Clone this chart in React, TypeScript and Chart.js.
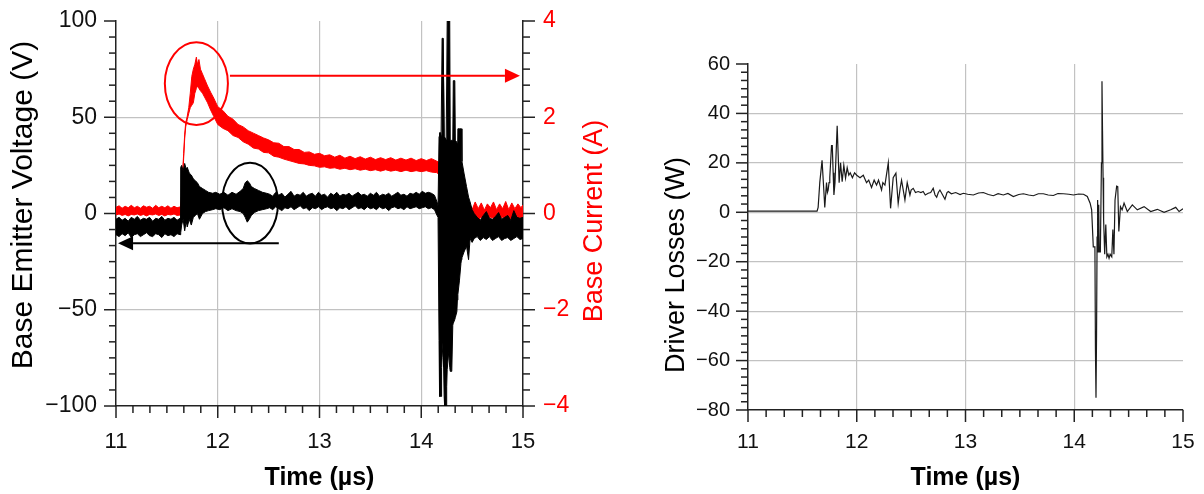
import React, { useEffect, useRef } from 'react';
import { Chart, registerables } from 'chart.js';

Chart.register(...registerables);

const FONT = '"Liberation Sans", Arial, Helvetica, sans-serif';

// ---------- Left chart: base-emitter voltage band (V) ----------
const vTime = [
  11.00, 11.03, 11.06, 11.09, 11.12, 11.15, 11.18, 11.21, 11.24, 11.27, 11.30, 11.33, 11.36, 11.39, 11.42, 11.45, 11.48, 11.51, 11.54, 11.57, 11.60, 11.63,
  11.636, 11.645, 11.66, 11.675, 11.69, 11.70, 11.72, 11.74, 11.76, 11.78, 11.80, 11.82, 11.85, 11.88, 11.91, 11.95, 11.98,
  12.02, 12.06, 12.10, 12.14, 12.18, 12.22, 12.25, 12.27, 12.29, 12.31, 12.33, 12.36, 12.40, 12.44, 12.48,
  12.51, 12.54, 12.57, 12.60, 12.63, 12.66, 12.69, 12.72, 12.75, 12.78,
  12.81, 12.84, 12.87, 12.90, 12.93, 12.96, 12.99, 13.02, 13.05, 13.08,
  13.11, 13.14, 13.17, 13.20, 13.23, 13.26, 13.29, 13.32, 13.35, 13.38,
  13.41, 13.44, 13.47, 13.50, 13.53, 13.56, 13.59, 13.62, 13.65, 13.68,
  13.71, 13.74, 13.77, 13.80, 13.83, 13.86, 13.89, 13.92, 13.95, 13.98,
  14.01, 14.04, 14.07, 14.10, 14.13,
  14.155, 14.165, 14.175, 14.18, 14.19, 14.195, 14.20, 14.205, 14.215, 14.22, 14.225, 14.23, 14.245, 14.25, 14.255, 14.27, 14.28, 14.285,
  14.30, 14.31, 14.315, 14.33, 14.335, 14.35, 14.355, 14.36, 14.375, 14.39, 14.395, 14.40, 14.42, 14.445, 14.465, 14.48, 14.50,
  14.52, 14.55, 14.58, 14.61, 14.64, 14.67, 14.70, 14.73, 14.76, 14.79, 14.82, 14.85, 14.88, 14.91, 14.94, 14.97, 15.00,
];
const vHigh = [
  -3, -2, -3.5, -2.5, -4, -2, -3, -1.5, -3.5, -2.5, -3, -2, -4, -2.5, -3, -1.5, -3.5, -2.5, -3, -2, -3.5, -2.5,
  24, 25, 22, 26, 23, 24, 21, 20, 18, 17, 16, 14, 13, 12, 11, 10.5, 11,
  10, 11, 9.5, 11, 10, 11.5, 13, 16, 17, 16, 14, 13, 12, 11, 10.5,
  10, 9, 11, 9.5, 10.5, 8.5, 10, 11.5, 9, 10,
  9.5, 11, 9, 10, 10.5, 9, 11, 9.5, 10, 8.5,
  10.5, 9.5, 11, 9, 10, 9.5, 10.5, 9, 10, 11,
  9.5, 10, 9, 10.5, 9.5, 11, 9, 10, 9.5, 10.5,
  9, 10, 11, 9.5, 10, 9, 10.5, 10, 11, 10,
  11.5, 10.5, 11, 10.5, 9.5,
  6, 4, 40, 42, 42, 40, 40, 91, 91, 91, 40, 40, 38, 38, 100, 100, 100, 38,
  38, 38, 69, 69, 38, 37, 36, 44, 44, 44, 44, 27, 21, 14, 8.5, 6, 2,
  0, -2, -3.5, -1, 1, -2.5, -3, -1.5, 0.5, -3, -2, -1, -3.5, 1.5, -2, -2.5, -2,
];
const vLow = [
  -11, -12, -10.5, -11.5, -10, -12.5, -11, -10.5, -12, -11, -10, -11.5, -12, -10.5, -11, -12.5, -10.5, -11.5, -11, -12, -10.5, -11,
  -10, -6, -3, -9, -4, -7, -3, -6, -2, -1, 0, -3, 0, 1, 1.5, 2, 2.5,
  2, 3, 1.5, 2.5, 1.5, 1, 0, -2, -4.5, -3, -1, 0.5, 1.5, 2, 2.5,
  3, 2, 3.5, 2.5, 1.5, 3, 2.5, 3.5, 2, 3,
  4, 2.5, 3, 1.5, 3, 2.5, 3.5, 2, 3, 3.5,
  2.5, 3, 1.5, 3, 2.5, 3.5, 2, 3, 4, 2.5,
  3, 2, 3.5, 2.5, 3, 2, 3.5, 2.5, 3, 1.5,
  3, 3.5, 2.5, 3, 2, 3.5, 2.5, 3, 3.5, 2.5,
  3, 3.5, 2.5, 3, 2,
  -1, -2, -66, -95, -95, -95, -80, -75, -66, -80, -95, -100, -100, -90, -81, -72, -80, -82,
  -82, -58, -57, -55, -54, -51, -45, -42, -35, -26, -24, -23, -20, -17, -24, -13, -15,
  -13, -12, -14, -12.5, -13.5, -12, -14, -13, -12, -14, -13, -12.5, -14, -13, -12, -13.5, -13,
];

// ---------- Left chart: base current band (A) ----------
const iTime = [
  11.00, 11.03, 11.06, 11.09, 11.12, 11.15, 11.18, 11.21, 11.24, 11.27, 11.30, 11.33, 11.36, 11.39, 11.42, 11.45, 11.48, 11.51, 11.54, 11.57, 11.60, 11.636,
  11.645, 11.655, 11.665, 11.675, 11.685, 11.70, 11.715, 11.73, 11.745, 11.76, 11.775, 11.79, 11.80, 11.815, 11.83, 11.85, 11.87, 11.90, 11.93, 11.96,
  12.00, 12.05, 12.10, 12.15, 12.20, 12.25, 12.30, 12.35, 12.40, 12.45, 12.50, 12.55, 12.60, 12.65, 12.70, 12.75, 12.80, 12.85, 12.90, 12.95, 13.00, 13.05,
  13.10, 13.15, 13.20, 13.25, 13.30, 13.35, 13.40, 13.45, 13.50, 13.55, 13.60, 13.65, 13.70, 13.75, 13.80, 13.85, 13.90, 13.95, 14.00, 14.05, 14.10, 14.15,
  14.185, 14.195, 14.21, 14.25, 14.30, 14.35, 14.40, 14.44,
  14.47, 14.50, 14.53, 14.56, 14.59, 14.62, 14.65, 14.68, 14.71, 14.74, 14.77, 14.80, 14.83, 14.86, 14.89, 14.92, 14.95, 14.98, 15.00,
];
const iHigh = [
  0.13, 0.16, 0.11, 0.15, 0.12, 0.17, 0.12, 0.15, 0.11, 0.16, 0.13, 0.15, 0.11, 0.17, 0.12, 0.15, 0.12, 0.16, 0.11, 0.15, 0.12, 0.14,
  0.4, 0.85, 1.25, 1.65, 1.88, 2.02, 2.2, 2.5, 2.85, 3.0, 3.1, 3.25, 3.1, 3.2, 3.0, 2.9, 2.8, 2.65, 2.52, 2.4,
  2.22, 2.14, 2.02, 1.96, 1.85, 1.8, 1.72, 1.67, 1.62, 1.57, 1.53, 1.47, 1.46, 1.39, 1.39, 1.33, 1.33, 1.27, 1.28, 1.23, 1.25, 1.2,
  1.22, 1.17, 1.21, 1.15, 1.19, 1.14, 1.18, 1.13, 1.17, 1.12, 1.16, 1.12, 1.16, 1.11, 1.15, 1.11, 1.15, 1.1, 1.14, 1.1, 1.14, 1.09,
  1.05, 0.85, 0.6, 0.45, 0.4, 0.35, 0.3, 0.28,
  0.22, 0.08, 0.24, 0.1, 0.22, 0.07, 0.2, 0.12, 0.24, 0.08, 0.2, 0.1, 0.25, 0.08, 0.22, 0.1, 0.2, 0.12, 0.18,
];
const iLow = [
  -0.03, -0.01, -0.04, -0.02, -0.05, -0.02, -0.03, -0.01, -0.04, -0.02, -0.05, -0.02, -0.03, -0.01, -0.04, -0.02, -0.05, -0.02, -0.03, -0.01, -0.04, -0.03,
  0.3, 0.75, 1.15, 1.55, 1.8, 1.95, 2.08, 2.2, 2.25, 2.3, 2.5, 2.6, 2.65, 2.6, 2.55, 2.5, 2.42, 2.3, 2.15, 2.02,
  1.85, 1.77, 1.72, 1.62, 1.58, 1.49, 1.44, 1.36, 1.34, 1.27, 1.26, 1.19, 1.17, 1.13, 1.1, 1.07, 1.04, 1.03, 1.0, 0.99, 0.96, 0.97,
  0.94, 0.95, 0.92, 0.94, 0.91, 0.93, 0.9, 0.92, 0.89, 0.91, 0.88, 0.91, 0.88, 0.9, 0.87, 0.9, 0.87, 0.89, 0.87, 0.89, 0.86, 0.85,
  0.8, 0.5, 0.25, 0.1, 0.0, -0.05, -0.08, -0.1,
  -0.1, -0.08, -0.1, -0.12, -0.08, -0.1, -0.12, -0.08, -0.1, -0.12, -0.1, -0.08, -0.11, -0.1, -0.12, -0.08, -0.1, -0.12, -0.1,
];

// ---------- Right chart: driver losses (W) ----------
const lossTime = [
  11.00, 11.30, 11.60, 11.635, 11.645, 11.66, 11.681, 11.697, 11.706, 11.722, 11.73, 11.737, 11.745, 11.752, 11.768, 11.775,
  11.783, 11.79, 11.80, 11.82, 11.838, 11.851, 11.866, 11.881, 11.897, 11.912, 11.927, 11.94, 11.96, 11.98, 12.00, 12.03,
  12.06, 12.09, 12.11, 12.136, 12.16, 12.182, 12.20, 12.228, 12.24, 12.259, 12.29, 12.311, 12.335, 12.36, 12.381, 12.40,
  12.412, 12.443, 12.464, 12.489, 12.50, 12.519, 12.54, 12.565, 12.59, 12.611, 12.63, 12.657, 12.68, 12.703, 12.72, 12.735,
  12.75, 12.765, 12.79, 12.811, 12.83, 12.842, 12.87, 12.91, 12.95, 12.98, 13.02, 13.072, 13.12, 13.164, 13.21, 13.256,
  13.30, 13.348, 13.39, 13.44, 13.49, 13.532, 13.58, 13.624, 13.67, 13.716, 13.76, 13.808, 13.85, 13.90, 13.95, 13.993,
  14.04, 14.085, 14.12, 14.146, 14.16, 14.175, 14.19, 14.195, 14.20, 14.205, 14.21, 14.215, 14.22, 14.225, 14.23, 14.24,
  14.25, 14.255, 14.26, 14.265, 14.27, 14.28, 14.29, 14.30, 14.31, 14.32, 14.33, 14.345, 14.355, 14.365, 14.375, 14.39,
  14.40, 14.41, 14.425, 14.44, 14.458, 14.488, 14.534, 14.58, 14.642, 14.703, 14.764, 14.826, 14.887, 14.933, 14.964, 15.00,
];
const lossW = [
  0.5, 0.5, 0.5, 0.5, 2, 12, 21, 9, 2, 12, 8, 9, 12, 14, 27, 27,
  16, 7, 12, 35, 12, 20, 12.4, 19, 13.8, 18, 15, 16, 14, 16, 15, 14,
  15, 12, 13, 10, 13, 11, 13, 9, 12, 11, 20, 1.6, 14, 15.8, 3.6, 10,
  13, 5, 12, 7, 9, 9.7, 8, 8.4, 8, 8.4, 7, 7.7, 8, 9.7, 7, 6.1,
  8, 9, 7, 5.3, 8, 8.4, 7.5, 8, 7.2, 7.7, 7.3, 7, 7.8, 8, 7.2, 6.7,
  7.5, 7, 7.6, 6.4, 7.2, 7.5, 7, 6.7, 7.5, 7.5, 7, 6.8, 7.6, 7.5, 7.3, 7,
  7.4, 7.3, 6.4, 3.7, 1, -14, -14, -56, -75, -50, -10, 5, -16, 3, -16, -16,
  20, 53, 33, 14, -3, -17, -5, -18, -17, -18.6, -17, -18, -7, -17, 5, 10.6,
  10.4, -7.8, 2.3, 1, 3.7, 0.3, 3, 1, 2.3, 0.3, 1.2, 0, 1, 2, 0.3, 1.4,
];

// ---------- Axis tick values ----------
const timeTicks = [11, 12, 13, 14, 15];
const voltTicks = [-100, -50, 0, 50, 100];
const currentTicks = [-4, -2, 0, 2, 4];
const lossTicks = [-80, -60, -40, -20, 0, 20, 40, 60];
const MINOR_DIVISIONS = 6;

// ---------- Annotations (axis units) ----------
const redCircle = { x: 11.79, y: 2.7, rx: 0.31, ry: 0.86 };
const redArrow = { from: 12.12, to: 14.97, y: 2.86 };
const blackCircle = { x: 12.317, y: 5.4, rx: 0.275, ry: 21 };
const blackArrow = { from: 12.6, to: 11.02, y: -15.4 };

const fmt = (v: number) => (v < 0 ? '\u2212' + Math.abs(v) : String(v));
const pts = (t: number[], v: number[]) => t.map((x, i) => ({ x, y: v[i] }));

type AxisSpec = { id: string; side: 'bottom' | 'left' | 'right'; values: number[] };

const makeTicksPlugin = (axes: AxisSpec[]) => ({
  id: 'axisTicks',
  afterDraw(chart: any) {
    const { ctx, chartArea } = chart;
    ctx.save();
    ctx.strokeStyle = '#222';
    ctx.lineWidth = 1.5;
    for (const spec of axes) {
      const scale = chart.scales[spec.id];
      const draw = (v: number, len: number) => {
        const p = scale.getPixelForValue(v);
        ctx.beginPath();
        if (spec.side === 'bottom') {
          ctx.moveTo(p, chartArea.bottom);
          ctx.lineTo(p, chartArea.bottom + len);
        } else if (spec.side === 'left') {
          ctx.moveTo(chartArea.left, p);
          ctx.lineTo(chartArea.left - len, p);
        } else {
          ctx.moveTo(chartArea.right, p);
          ctx.lineTo(chartArea.right + len, p);
        }
        ctx.stroke();
      };
      spec.values.forEach((v, i) => {
        draw(v, 12);
        if (i < spec.values.length - 1) {
          const step = (spec.values[i + 1] - v) / MINOR_DIVISIONS;
          for (let k = 1; k < MINOR_DIVISIONS; k++) draw(v + k * step, 7);
        }
      });
    }
    ctx.restore();
  },
});

type TitleSpec = { text: string; x: number; y: number; size: number; color: string };
const makeTitlesPlugin = (titles: TitleSpec[]) => ({
  id: 'yTitles',
  afterDraw(chart: any) {
    const { ctx } = chart;
    for (const t of titles) {
      ctx.save();
      ctx.translate(t.x, t.y);
      ctx.rotate(-Math.PI / 2);
      ctx.font = `${t.size}px ${FONT}`;
      ctx.fillStyle = t.color;
      ctx.textAlign = 'center';
      ctx.textBaseline = 'middle';
      ctx.fillText(t.text, 0, 0);
      ctx.restore();
    }
  },
});

const annotationPlugin = {
  id: 'marks',
  afterDatasetsDraw(chart: any) {
    const { ctx } = chart;
    const x = chart.scales.x;
    const y = chart.scales.y;
    const y1 = chart.scales.y1;
    const ellipse = (e: any, ys: any, color: string) => {
      const cx = x.getPixelForValue(e.x);
      const cy = ys.getPixelForValue(e.y);
      const rx = Math.abs(x.getPixelForValue(e.x + e.rx) - cx);
      const ry = Math.abs(ys.getPixelForValue(e.y + e.ry) - cy);
      ctx.save();
      ctx.strokeStyle = color;
      ctx.lineWidth = 2;
      ctx.beginPath();
      ctx.ellipse(cx, cy, rx, ry, 0, 0, Math.PI * 2);
      ctx.stroke();
      ctx.restore();
    };
    const arrow = (a: any, ys: any, color: string) => {
      const x0 = x.getPixelForValue(a.from);
      const x1 = x.getPixelForValue(a.to);
      const py = ys.getPixelForValue(a.y);
      const dir = Math.sign(x1 - x0);
      const head = 15;
      ctx.save();
      ctx.strokeStyle = color;
      ctx.fillStyle = color;
      ctx.lineWidth = 2;
      ctx.beginPath();
      ctx.moveTo(x0, py);
      ctx.lineTo(x1 - dir * head, py);
      ctx.stroke();
      ctx.beginPath();
      ctx.moveTo(x1, py);
      ctx.lineTo(x1 - dir * head, py - 7);
      ctx.lineTo(x1 - dir * head, py + 7);
      ctx.closePath();
      ctx.fill();
      ctx.restore();
    };
    ellipse(redCircle, y1, '#ff0000');
    arrow(redArrow, y1, '#ff0000');
    ellipse(blackCircle, y, '#000000');
    arrow(blackArrow, y, '#000000');
  },
};

const gridColor = (lo: number, hi: number) => (c: any) =>
  c.tick && (c.tick.value === lo || c.tick.value === hi) ? 'rgba(0,0,0,0)' : '#c2c2c2';

const setTicks = (vals: number[]) => (s: any) => {
  s.ticks = vals.map((value) => ({ value }));
};

export default function App() {
  const leftRef = useRef<HTMLCanvasElement | null>(null);
  const rightRef = useRef<HTMLCanvasElement | null>(null);

  useEffect(() => {
    Chart.defaults.font.family = FONT;
    const line = { pointRadius: 0, borderWidth: 1, tension: 0 };

    const left = new Chart(leftRef.current as HTMLCanvasElement, {
      type: 'line',
      data: {
        datasets: [
          { ...line, data: pts(vTime, vHigh), yAxisID: 'y', borderColor: '#000', fill: false },
          { ...line, data: pts(vTime, vLow), yAxisID: 'y', borderColor: '#000', backgroundColor: '#000', fill: '-1' },
          { ...line, data: pts(iTime, iHigh), yAxisID: 'y1', borderColor: '#ff0000', fill: false },
          { ...line, data: pts(iTime, iLow), yAxisID: 'y1', borderColor: '#ff0000', backgroundColor: '#ff0000', fill: '-1' },
        ],
      },
      options: {
        responsive: false,
        animation: false,
        events: [],
        layout: { padding: { top: 21, left: 0, right: 0, bottom: 0 } },
        plugins: { legend: { display: false }, tooltip: { enabled: false } },
        scales: {
          x: {
            type: 'linear', min: 11, max: 15,
            afterBuildTicks: setTicks(timeTicks),
            afterFit: (s: any) => { s.height = 88; s.paddingLeft = 0; s.paddingRight = 0; },
            ticks: { font: { size: 22 }, color: '#111', padding: 23, maxRotation: 0, autoSkip: false },
            grid: { drawTicks: false, color: gridColor(11, 15), lineWidth: 1.2 },
            border: { color: '#222', width: 1.5 },
            title: { display: true, text: 'Time (\u00b5s)', color: '#000', font: { size: 25, weight: 'bold' }, padding: { top: 0, bottom: 1 } },
          },
          y: {
            type: 'linear', position: 'left', min: -100, max: 100,
            afterBuildTicks: setTicks(voltTicks),
            afterFit: (s: any) => { s.width = 116; s.paddingTop = 0; s.paddingBottom = 0; },
            ticks: { font: { size: 23 }, color: '#111', padding: 19, callback: (v: any) => fmt(Number(v)) },
            grid: { drawTicks: false, color: gridColor(-100, 100), lineWidth: 1.2 },
            border: { color: '#222', width: 1.5 },
          },
          y1: {
            type: 'linear', position: 'right', min: -4, max: 4,
            afterBuildTicks: setTicks(currentTicks),
            afterFit: (s: any) => { s.width = 117; s.paddingTop = 0; s.paddingBottom = 0; },
            ticks: { font: { size: 23 }, color: '#ff0000', padding: 20, callback: (v: any) => fmt(Number(v)) },
            grid: { drawTicks: false, drawOnChartArea: false },
            border: { color: '#222', width: 1.5 },
          },
        },
      } as any,
      plugins: [
        makeTicksPlugin([
          { id: 'x', side: 'bottom', values: timeTicks },
          { id: 'y', side: 'left', values: voltTicks },
          { id: 'y1', side: 'right', values: currentTicks },
        ]),
        annotationPlugin,
        makeTitlesPlugin([
          { text: 'Base Emitter Voltage (V)', x: 24, y: 205, size: 30, color: '#000' },
          { text: 'Base Current (A)', x: 595, y: 221, size: 27, color: '#ff0000' },
        ]),
      ],
    });

    const right = new Chart(rightRef.current as HTMLCanvasElement, {
      type: 'line',
      data: {
        datasets: [
          { ...line, data: pts(lossTime, lossW), borderColor: '#1a1a1a', borderWidth: 1.2, fill: false },
        ],
      },
      options: {
        responsive: false,
        animation: false,
        events: [],
        layout: { padding: { top: 64, left: 0, right: 21, bottom: 0 } },
        plugins: { legend: { display: false }, tooltip: { enabled: false } },
        scales: {
          x: {
            type: 'linear', min: 11, max: 15,
            afterBuildTicks: setTicks(timeTicks),
            afterFit: (s: any) => { s.height = 84; s.paddingLeft = 0; s.paddingRight = 0; },
            ticks: { font: { size: 21 }, color: '#111', padding: 20, maxRotation: 0, autoSkip: false },
            grid: { drawTicks: false, color: gridColor(11, 15), lineWidth: 1.2 },
            border: { color: '#222', width: 1.5 },
            title: { display: true, text: 'Time (\u00b5s)', color: '#000', font: { size: 25, weight: 'bold' }, padding: { top: 0, bottom: 1 } },
          },
          y: {
            type: 'linear', position: 'left', min: -80, max: 60,
            afterBuildTicks: setTicks(lossTicks),
            afterFit: (s: any) => { s.width = 108; s.paddingTop = 0; s.paddingBottom = 0; },
            ticks: { font: { size: 20 }, color: '#111', padding: 18, callback: (v: any) => fmt(Number(v)) },
            grid: { drawTicks: false, color: gridColor(-80, 60), lineWidth: 1.2 },
            border: { color: '#222', width: 1.5 },
          },
        },
      } as any,
      plugins: [
        makeTicksPlugin([
          { id: 'x', side: 'bottom', values: timeTicks },
          { id: 'y', side: 'left', values: lossTicks },
        ]),
        makeTitlesPlugin([{ text: 'Driver Losses (W)', x: 37, y: 265, size: 27, color: '#000' }]),
      ],
    });

    return () => {
      left.destroy();
      right.destroy();
    };
  }, []);

  return (
    <div style={{ position: 'absolute', left: 0, top: 0, width: 1204, height: 494, background: '#fff' }}>
      <canvas ref={leftRef} width={640} height={494} style={{ position: 'absolute', left: 0, top: 0, display: 'block' }} />
      <canvas ref={rightRef} width={564} height={494} style={{ position: 'absolute', left: 640, top: 0, display: 'block' }} />
    </div>
  );
}
